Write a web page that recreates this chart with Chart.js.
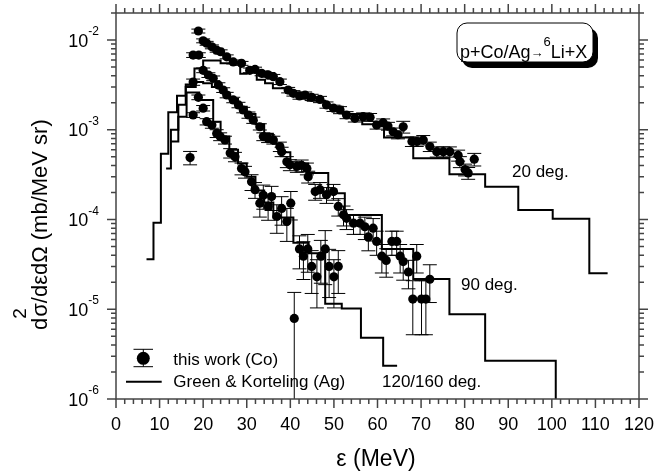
<!DOCTYPE html>
<html>
<head>
<meta charset="utf-8">
<script src="https://cdn.jsdelivr.net/npm/chart.js@4.4.1/dist/chart.umd.min.js"></script>
<style>
  html, body { margin: 0; padding: 0; background: #fff; }
  #wrap { width: 657px; height: 474px; position: relative; }
</style>
</head>
<body>
<div id="wrap"><canvas id="chart"></canvas></div>
<script>
// this work (Co): energy (MeV), cross section, relative error
const e20 = [17.7, 18.9, 20.0, 20.8, 22.0, 23.1, 24.0, 25.4, 26.9, 28.8, 30.7, 31.9, 33.4, 34.9, 36.1, 37.6, 39.5, 40.7, 42.1, 43.4, 44.9, 46.8, 48.3, 49.9, 51.4, 52.9, 54.8, 56.7, 58.3, 59.8, 61.3, 62.4, 63.6, 64.7, 65.9, 67.9, 69.0, 70.5, 72.0, 73.6, 75.1, 76.6, 78.5, 78.9, 80.1, 80.8, 82.2];
const y20 = [6.8e-3, 1.26e-2, 9.8e-3, 9.2e-3, 8.4e-3, 7.7e-3, 7.4e-3, 6.5e-3, 5.7e-3, 5.5e-3, 4.6e-3, 4.7e-3, 4.25e-3, 4.1e-3, 3.9e-3, 3.43e-3, 2.77e-3, 2.55e-3, 2.38e-3, 2.44e-3, 2.3e-3, 2.18e-3, 1.89e-3, 1.74e-3, 1.66e-3, 1.46e-3, 1.34e-3, 1.4e-3, 1.38e-3, 1.13e-3, 1.2e-3, 1.1e-3, 9.5e-4, 8.8e-4, 1.08e-3, 7.4e-4, 7.4e-4, 7.7e-4, 6.5e-4, 5.7e-4, 5.7e-4, 5.7e-4, 5.2e-4, 4.4e-4, 3.6e-4, 3.3e-4, 4.7e-4];
const err20 = [0.06, 0.05, 0.05, 0.05, 0.05, 0.05, 0.05, 0.05, 0.05, 0.05, 0.06, 0.06, 0.06, 0.06, 0.06, 0.07, 0.07, 0.07, 0.08, 0.08, 0.08, 0.08, 0.08, 0.08, 0.09, 0.09, 0.09, 0.1, 0.1, 0.1, 0.1, 0.1, 0.1, 0.1, 0.15, 0.12, 0.12, 0.12, 0.12, 0.13, 0.13, 0.13, 0.14, 0.14, 0.15, 0.15, 0.16];

const e90 = [17.7, 19.0, 20.0, 21.2, 22.3, 23.5, 24.6, 25.4, 26.9, 28.1, 29.2, 30.4, 31.5, 33.0, 33.8, 34.9, 36.1, 37.6, 38.0, 39.2, 39.9, 41.5, 42.6, 43.8, 44.1, 45.7, 46.8, 48.3, 49.9, 51.0, 52.2, 52.9, 54.5, 56.0, 57.1, 57.9, 59.0, 59.8, 61.0, 62.0, 63.3, 64.4, 65.2, 65.9, 67.1, 68.1, 69.0, 70.1, 71.1, 72.0];
const y90 = [3.4e-3, 6.8e-3, 4.6e-3, 4.07e-3, 3.75e-3, 3.15e-3, 2.77e-3, 2.44e-3, 2.15e-3, 1.89e-3, 1.66e-3, 1.46e-3, 1.28e-3, 1.08e-3, 8.4e-4, 8.0e-4, 7.7e-4, 6.5e-4, 5.7e-4, 4.4e-4, 4.07e-4, 3.9e-4, 4.0e-4, 3.7e-4, 3.0e-4, 2.05e-4, 2.15e-4, 1.89e-4, 2.05e-4, 1.4e-4, 1.13e-4, 1.03e-4, 9.1e-5, 9.1e-5, 8.3e-5, 6.4e-5, 8.0e-5, 5.7e-5, 3.9e-5, 3.5e-5, 5.7e-5, 5.7e-5, 3.9e-5, 3.4e-5, 2.6e-5, 1.3e-5, 3.9e-5, 1.3e-5, 1.3e-5, 2.16e-5];
const err90 = [0.08, 0.06, 0.06, 0.06, 0.06, 0.06, 0.06, 0.07, 0.07, 0.07, 0.07, 0.08, 0.08, 0.08, 0.1, 0.1, 0.1, 0.12, 0.12, 0.14, 0.14, 0.14, 0.15, 0.15, 0.15, 0.2, 0.2, 0.2, 0.2, 0.22, 0.25, 0.25, 0.25, 0.25, 0.28, 0.3, 0.28, 0.3, 0.35, 0.35, 0.3, 0.3, 0.35, 0.38, 0.35, 0.6, 0.35, 0.6, 0.6, 0.45];

const e120 = [17.0, 17.7, 18.9, 20.0, 20.8, 22.0, 23.1, 23.9, 25.0, 26.2, 27.3, 28.8, 29.6, 31.1, 31.9, 33.0, 33.8, 34.9, 35.7, 36.9, 38.0, 39.2, 40.1, 40.9, 42.1, 43.0, 44.0, 44.9, 46.1, 47.0, 48.0, 48.9, 50.0, 51.0];
const y120 = [4.9e-4, 1.46e-3, 2.3e-3, 1.74e-3, 1.23e-3, 1.13e-3, 9.1e-4, 8.4e-4, 7.7e-4, 5.5e-4, 5.0e-4, 3.7e-4, 3.4e-4, 2.63e-4, 2.15e-4, 1.52e-4, 1.86e-4, 1.4e-4, 1.8e-4, 1.08e-4, 1.33e-4, 9.5e-5, 1.52e-4, 7.9e-6, 4.7e-5, 3.9e-5, 4.7e-5, 3.0e-5, 2.3e-5, 3.9e-5, 4.7e-5, 3.0e-5, 2.3e-5, 3.0e-5];
const err120 = [0.17, 0.06, 0.06, 0.07, 0.08, 0.08, 0.1, 0.1, 0.1, 0.12, 0.12, 0.15, 0.15, 0.2, 0.2, 0.3, 0.3, 0.3, 0.3, 0.35, 0.35, 0.4, 0.35, 0.95, 0.4, 0.45, 0.45, 0.5, 0.55, 0.5, 0.6, 0.55, 0.55, 0.5];

// Green & Korteling (Ag) histograms: bin edges and the value from each edge on
const h20Edges = [7.0, 8.6, 10.3, 12.0, 14.0, 16.0, 18.0, 20.0, 24.0, 28.5, 30.0, 32.3, 34.2, 36.0, 40.0, 44.0, 48.0, 52.0, 56.5, 61.5, 68.2, 76.5, 84.7, 92.3, 100.2, 108.6, 112.8];
const h20Vals = [3.6e-5, 9.2e-5, 5.4e-4, 1.57e-3, 2.4e-3, 3.2e-3, 4.8e-3, 5.9e-3, 5.5e-3, 4.2e-3, 4.8e-3, 3.6e-3, 3.3e-3, 2.9e-3, 2.45e-3, 2.1e-3, 1.8e-3, 1.5e-3, 1.15e-3, 8.2e-4, 4.8e-4, 3.2e-4, 2.32e-4, 1.28e-4, 1.02e-4, 2.52e-5, 2.52e-5];

const h90Edges = [11.5, 12.6, 14.3, 16.0, 18.3, 20.0, 22.0, 24.0, 26.0, 28.0, 30.0, 32.0, 34.0, 36.0, 38.0, 40.0, 44.1, 48.7, 52.5, 61.0, 68.2, 76.5, 84.7, 100.9];
const h90Vals = [3.7e-4, 1.0e-3, 1.9e-3, 3.0e-3, 3.4e-3, 3.3e-3, 3.0e-3, 2.6e-3, 2.2e-3, 1.8e-3, 1.5e-3, 1.15e-3, 9.0e-4, 7.0e-4, 5.6e-4, 4.2e-4, 3.3e-4, 1.96e-4, 1.12e-4, 4.7e-5, 2.18e-5, 8.8e-6, 2.66e-6, 1e-6];

const h120Edges = [12.6, 14.3, 16.2, 19.1, 22.3, 24.0, 26.0, 28.0, 30.0, 32.0, 34.0, 36.1, 40.7, 44.2, 48.0, 51.8, 56.2, 61.3, 64.5];
const h120Vals = [7.4e-4, 1.4e-3, 2.6e-3, 2.15e-3, 1.23e-3, 8.4e-4, 6.0e-4, 4.2e-4, 3.0e-4, 2.1e-4, 1.55e-4, 1.05e-4, 5.5e-5, 4.2e-5, 1.15e-5, 1.02e-5, 4.8e-6, 2.34e-6, 2.34e-6];

const xTicks = [0, 10, 20, 30, 40, 50, 60, 70, 80, 90, 100, 110, 120];
const yExps = [-6, -5, -4, -3, -2];

const FONT = '"Liberation Sans", Arial, Helvetica, sans-serif';
const AXIS = "#444";
const CAP = 7;

const points = (xs, ys) => xs.map((x, i) => ({ x: x, y: ys[i] }));

// "before" in chart.js = keep the previous value up to the next edge, then jump
const histDataset = (edges, vals) => ({
  type: "line",
  data: points(edges, vals),
  stepped: "before",
  borderColor: "#000",
  borderWidth: 2,
  pointRadius: 0,
  fill: false,
  order: 2,
});

const dotDataset = (xs, ys, errs) => ({
  type: "scatter",
  data: points(xs, ys),
  errs: errs,
  pointRadius: 4.6,
  pointBackgroundColor: "#000",
  pointBorderWidth: 0,
  order: 1,
});

const errorBars = {
  id: "errorBars",
  beforeDatasetsDraw(chart) {
    const { ctx, chartArea: a, scales } = chart;
    const y = scales.y;
    ctx.save();
    ctx.strokeStyle = "#000";
    ctx.lineWidth = 1;
    chart.data.datasets.forEach((ds, i) => {
      if (!ds.errs) return;
      const meta = chart.getDatasetMeta(i);
      meta.data.forEach((pt, j) => {
        const v = ds.data[j].y;
        const d = v * ds.errs[j];
        const top = y.getPixelForValue(v + d);
        const low = v - d > 0 ? y.getPixelForValue(v - d) : a.bottom;
        const bot = Math.min(low, a.bottom);
        ctx.beginPath();
        ctx.moveTo(pt.x, top);
        ctx.lineTo(pt.x, bot);
        ctx.moveTo(pt.x - CAP, top);
        ctx.lineTo(pt.x + CAP, top);
        if (low < a.bottom) {
          ctx.moveTo(pt.x - CAP, bot);
          ctx.lineTo(pt.x + CAP, bot);
        }
        ctx.stroke();
      });
    });
    ctx.restore();
  },
};

const frame = {
  id: "frame",
  afterDraw(chart) {
    const { ctx, chartArea: a, scales } = chart;
    const x = scales.x, y = scales.y;
    ctx.save();
    ctx.strokeStyle = AXIS;
    ctx.lineWidth = 1.5;
    ctx.strokeRect(a.left, a.top, a.right - a.left, a.bottom - a.top);

    // ticks, all outward
    ctx.beginPath();
    for (let v = xTicks[0]; v <= xTicks[xTicks.length - 1]; v += 2) {
      const px = x.getPixelForValue(v);
      const len = v % 10 === 0 ? 9 : 5;
      ctx.moveTo(px, a.bottom);
      ctx.lineTo(px, a.bottom + len);
      ctx.moveTo(px, a.top);
      ctx.lineTo(px, a.top - len);
    }
    yExps.forEach((p) => {
      for (let k = 1; k <= 9; k++) {
        const v = k * Math.pow(10, p);
        if (v > y.max * 1.0001) break;
        const py = y.getPixelForValue(v);
        const len = k === 1 ? 9 : 5;
        ctx.moveTo(a.left, py);
        ctx.lineTo(a.left - len, py);
        ctx.moveTo(a.right, py);
        ctx.lineTo(a.right + len, py);
      }
    });
    ctx.stroke();

    // tick labels
    ctx.fillStyle = "#000";
    ctx.textBaseline = "alphabetic";
    ctx.font = `18px ${FONT}`;
    ctx.textAlign = "center";
    xTicks.forEach((v) => ctx.fillText(String(v), x.getPixelForValue(v), 430));
    yExps.forEach((p) => {
      const py = y.getPixelForValue(Math.pow(10, p));
      ctx.font = `12px ${FONT}`;
      const ew = ctx.measureText(String(p)).width;
      ctx.textAlign = "left";
      ctx.fillText(String(p), 99 - ew, py - 5);
      ctx.font = `18px ${FONT}`;
      ctx.textAlign = "right";
      ctx.fillText("10", 99 - ew, py + 6.5);
    });

    // axis titles
    ctx.font = `23px ${FONT}`;
    ctx.textAlign = "center";
    ctx.fillText("ε (MeV)", 376, 466);

    ctx.save();
    ctx.translate(47, 330);
    ctx.rotate(-Math.PI / 2);
    ctx.textAlign = "left";
    ctx.font = `22px ${FONT}`;
    const dw = ctx.measureText("d").width;
    ctx.fillText("d", 0, 0);
    ctx.font = `19px ${FONT}`;
    ctx.fillText("2", dw - 1, -21);
    ctx.font = `22px ${FONT}`;
    ctx.fillText("σ/dεdΩ (mb/MeV sr)", dw + 1, 0);
    ctx.restore();

    // curve labels
    ctx.font = `17px ${FONT}`;
    ctx.textAlign = "left";
    ctx.fillText("20 deg.", 512, 177);
    ctx.fillText("90 deg.", 461, 290);
    ctx.fillText("120/160 deg.", 382, 387);

    // legend
    ctx.strokeStyle = "#000";
    ctx.lineWidth = 1;
    ctx.beginPath();
    ctx.moveTo(143.3, 349.3);
    ctx.lineTo(143.3, 366.7);
    ctx.moveTo(133.5, 349.3);
    ctx.lineTo(153, 349.3);
    ctx.moveTo(133.5, 366.7);
    ctx.lineTo(153, 366.7);
    ctx.stroke();
    ctx.beginPath();
    ctx.arc(143.3, 358.3, 6.5, 0, Math.PI * 2);
    ctx.fill();
    ctx.lineWidth = 2;
    ctx.beginPath();
    ctx.moveTo(126, 381.7);
    ctx.lineTo(161.7, 381.7);
    ctx.stroke();
    ctx.fillText("this work (Co)", 173.3, 365);
    ctx.fillText("Green & Korteling (Ag)", 173.3, 387);

    // reaction box with drop shadow
    const rr = (l, t, w, h, r) => {
      ctx.beginPath();
      ctx.roundRect(l, t, w, h, r);
    };
    rr(462, 28, 136, 40, 10);
    ctx.fillStyle = "#000";
    ctx.fill();
    rr(457, 23, 136, 39, 10);
    ctx.fillStyle = "#fff";
    ctx.fill();
    ctx.lineWidth = 1;
    ctx.strokeStyle = "#000";
    ctx.stroke();
    ctx.fillStyle = "#000";
    let cx = 460;
    ctx.font = `18px ${FONT}`;
    ctx.fillText("p+Co/Ag", cx, 58);
    cx += ctx.measureText("p+Co/Ag").width;
    ctx.font = `13px ${FONT}`;
    ctx.fillText("→", cx, 57);
    cx += ctx.measureText("→").width;
    ctx.fillText("6", cx, 46);
    cx += ctx.measureText("6").width;
    ctx.font = `18px ${FONT}`;
    ctx.fillText("Li+X", cx, 58);
    ctx.restore();
  },
};

new Chart(document.getElementById("chart"), {
  data: {
    datasets: [
      histDataset(h20Edges, h20Vals),
      histDataset(h90Edges, h90Vals),
      histDataset(h120Edges, h120Vals),
      dotDataset(e20, y20, err20),
      dotDataset(e90, y90, err90),
      dotDataset(e120, y120, err120),
    ],
  },
  options: {
    responsive: true,
    maintainAspectRatio: false,
    animation: false,
    events: [],
    layout: { padding: { left: 116, right: 18, top: 13, bottom: 75 } },
    scales: {
      x: { type: "linear", min: 0, max: 120, display: false },
      y: { type: "logarithmic", min: 1e-6, max: 0.02, display: false },
    },
    plugins: {
      legend: { display: false },
      tooltip: { enabled: false },
    },
  },
  plugins: [errorBars, frame],
});
</script>
</body>
</html>
